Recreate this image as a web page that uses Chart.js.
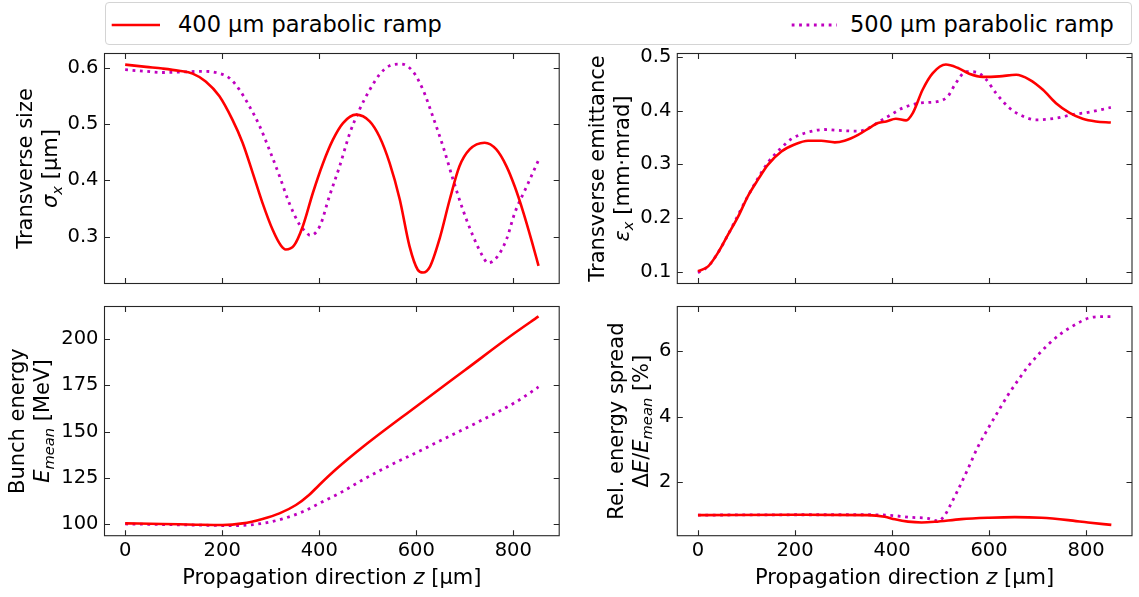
<!DOCTYPE html>
<html lang="en">
<head>
<meta charset="UTF-8">
<title>Parabolic ramp comparison</title>
<script src="https://cdn.jsdelivr.net/npm/chart.js"></script>
<style>
  body { margin: 0; background: #fff; width: 1139px; height: 597px; position: relative; overflow: hidden; font-family: "DejaVu Sans", sans-serif; }
  canvas { position: absolute; left: 0; top: 0; }
  #legend { position: absolute; left: 105px; top: 2px; width: 1027px; height: 43px; box-sizing: border-box; border: 1px solid #d4d4d4; border-radius: 4px; }
  .lab { position: absolute; top: 0; height: 43px; line-height: 43px; font-size: 22.5px; color: #000; white-space: nowrap; }
</style>
</head>
<body>

<div id="legend">
  <svg width="1027" height="43" style="position:absolute;left:-1px;top:-2px">
    <line x1="6.7" y1="24" x2="55" y2="24" stroke="#ff0000" stroke-width="2.6"/>
    <line x1="686.7" y1="24" x2="731.7" y2="24" stroke="#bf00bf" stroke-width="2.8" stroke-dasharray="2.8 4.6"/>
  </svg>
  <span class="lab" style="left:72px">400 µm parabolic ramp</span>
  <span class="lab" style="left:744px">500 µm parabolic ramp</span>
</div>

<canvas id="size" width="1139" height="597"></canvas>
<canvas id="emit" width="1139" height="597"></canvas>
<canvas id="energy" width="1139" height="597"></canvas>
<canvas id="spread" width="1139" height="597"></canvas>

<script>
// ---- data (z in µm) ----
const zTicks = [0, 200, 400, 600, 800];

// transverse size sigma_x [µm]
const sizeRedZ = [0, 43, 77, 111, 139, 166, 194, 221, 242, 263, 283, 304, 321, 331, 348, 366, 387, 408, 428, 449, 476, 504, 524, 545, 566, 586, 603, 614, 628, 648, 669, 689, 710, 741, 765, 786, 803, 820, 838, 852];
const sizeRed = [0.606, 0.602, 0.599, 0.595, 0.590, 0.576, 0.550, 0.508, 0.467, 0.413, 0.360, 0.312, 0.284, 0.277, 0.284, 0.318, 0.378, 0.431, 0.472, 0.502, 0.517, 0.505, 0.478, 0.431, 0.366, 0.283, 0.241, 0.236, 0.246, 0.296, 0.366, 0.425, 0.455, 0.467, 0.455, 0.425, 0.389, 0.345, 0.292, 0.248];
const sizePurpleZ = [0, 43, 77, 118, 160, 187, 215, 235, 256, 276, 297, 318, 338, 359, 373, 381, 401, 421, 442, 463, 483, 504, 524, 545, 569, 593, 614, 634, 655, 676, 696, 717, 737, 748, 765, 786, 803, 828, 852];
const sizePurple = [0.597, 0.594, 0.592, 0.593, 0.594, 0.592, 0.582, 0.562, 0.532, 0.499, 0.455, 0.408, 0.360, 0.322, 0.308, 0.302, 0.318, 0.372, 0.425, 0.484, 0.526, 0.561, 0.588, 0.604, 0.607, 0.594, 0.561, 0.514, 0.461, 0.401, 0.348, 0.301, 0.265, 0.253, 0.262, 0.295, 0.342, 0.390, 0.436];
const sizeTicks = [0.3, 0.4, 0.5, 0.6];

// transverse emittance [mm·mrad]
const emitRedZ = [0, 21, 41, 62, 83, 103, 124, 144, 172, 199, 227, 254, 282, 302, 330, 357, 371, 388, 408, 429, 443, 463, 484, 511, 535, 559, 587, 621, 656, 683, 711, 738, 766, 793, 820, 851];
const emitRed = [0.101, 0.110, 0.135, 0.169, 0.203, 0.241, 0.272, 0.299, 0.324, 0.337, 0.344, 0.344, 0.341, 0.344, 0.355, 0.370, 0.377, 0.380, 0.385, 0.382, 0.396, 0.439, 0.470, 0.486, 0.480, 0.469, 0.463, 0.464, 0.467, 0.458, 0.439, 0.414, 0.396, 0.385, 0.380, 0.378];
const emitPurpleZ = [0, 21, 41, 62, 103, 144, 172, 192, 227, 261, 296, 330, 357, 367, 395, 422, 456, 498, 515, 532, 553, 573, 594, 614, 642, 669, 697, 738, 773, 804, 851];
const emitPurple = [0.098, 0.110, 0.135, 0.169, 0.241, 0.303, 0.331, 0.347, 0.360, 0.365, 0.363, 0.362, 0.370, 0.376, 0.391, 0.405, 0.414, 0.418, 0.427, 0.452, 0.473, 0.472, 0.458, 0.433, 0.405, 0.390, 0.383, 0.386, 0.393, 0.397, 0.406];
const emitTicks = [0.1, 0.2, 0.3, 0.4, 0.5];

// bunch energy E_mean [MeV]
const energyRedZ = [0, 77, 146, 201, 242, 283, 318, 352, 379, 400, 434, 489, 600, 700, 800, 852];
const energyRed = [100.5, 100.2, 99.8, 99.6, 100.5, 102.9, 105.9, 110.4, 115.8, 121.2, 129.5, 141.5, 163.5, 183.0, 202.5, 212.0];
const energyPurpleZ = [0, 146, 228, 283, 324, 366, 407, 448, 489, 544, 599, 661, 723, 806, 852];
const energyPurple = [100.2, 99.6, 99.3, 100.5, 102.9, 106.8, 112.2, 117.6, 123.9, 131.5, 138.5, 146.5, 154.5, 166.0, 174.0];
const energyTicks = [100, 125, 150, 175, 200];

// relative energy spread [%]
const spreadRedZ = [0, 199, 350, 385, 406, 433, 461, 488, 543, 598, 653, 708, 763, 804, 852];
const spreadRed = [0.99, 1.00, 0.99, 0.94, 0.86, 0.79, 0.765, 0.785, 0.867, 0.908, 0.929, 0.908, 0.837, 0.765, 0.69];
const spreadPurpleZ = [0, 199, 364, 406, 440, 474, 495, 509, 522, 536, 557, 577, 598, 619, 639, 660, 680, 701, 722, 749, 777, 804, 830, 852];
const spreadPurple = [0.99, 1.00, 1.00, 0.97, 0.92, 0.89, 0.81, 0.99, 1.35, 1.76, 2.42, 3.08, 3.64, 4.17, 4.66, 5.12, 5.53, 5.89, 6.21, 6.55, 6.81, 7.01, 7.06, 7.06];
const spreadTicks = [2, 4, 6];

const RED = '#ff0000';
const PURPLE = '#bf00bf';
const FONT = '"DejaVu Sans"';

function pts(zs, vs) { return zs.map((z, i) => ({x: z, y: vs[i]})); }

// draw a line of mixed text: segments [text, style] style: '' normal, 'i' italic, 'is' italic subscript
function richWidth(ctx, segs, size) {
  let w = 0;
  segs.forEach(s => {
    const sub = s[1].indexOf('s') >= 0;
    ctx.font = (s[1].indexOf('i') >= 0 ? 'italic ' : '') + (sub ? size * 0.7 : size) + 'px ' + FONT;
    w += ctx.measureText(s[0]).width;
  });
  return w;
}
function drawRich(ctx, segs, cx, cy, size, rotate) {
  ctx.save();
  ctx.translate(cx, cy);
  if (rotate) ctx.rotate(-Math.PI / 2);
  ctx.fillStyle = '#000';
  ctx.textBaseline = 'alphabetic';
  ctx.textAlign = 'left';
  let x = -richWidth(ctx, segs, size) / 2;
  const base = size * 0.36;
  segs.forEach(s => {
    const sub = s[1].indexOf('s') >= 0;
    ctx.font = (s[1].indexOf('i') >= 0 ? 'italic ' : '') + (sub ? size * 0.7 : size) + 'px ' + FONT;
    ctx.fillText(s[0], x, base + (sub ? size * 0.22 : 0));
    x += ctx.measureText(s[0]).width;
  });
  ctx.restore();
}

// frame, inward ticks on all four sides, axis titles
const framePlugin = {
  id: 'frame',
  afterDraw(chart, args, o) {
    const {ctx, chartArea: a, scales} = chart;
    ctx.save();
    ctx.strokeStyle = '#262626';
    ctx.lineWidth = 1.1;
    ctx.strokeRect(a.left, a.top, a.right - a.left, a.bottom - a.top);
    const L = 5.5;
    ctx.beginPath();
    scales.x.ticks.forEach(t => {
      const px = Math.round(scales.x.getPixelForValue(t.value)) + 0.5;
      ctx.moveTo(px, a.bottom); ctx.lineTo(px, a.bottom - L);
      ctx.moveTo(px, a.top); ctx.lineTo(px, a.top + L);
    });
    scales.y.ticks.forEach(t => {
      const py = Math.round(scales.y.getPixelForValue(t.value)) + 0.5;
      ctx.moveTo(a.left, py); ctx.lineTo(a.left + L, py);
      ctx.moveTo(a.right, py); ctx.lineTo(a.right - L, py);
    });
    ctx.stroke();
    ctx.restore();
    const cy = (a.top + a.bottom) / 2;
    drawRich(ctx, [[o.title1, '']], o.tx1, cy, 21, true);
    drawRich(ctx, o.title2, o.tx2, cy, 21, true);
    if (o.xTitle) {
      drawRich(ctx, [['Propagation direction ', ''], ['z', 'i'], [' [µm]', '']], (a.left + a.right) / 2, 576.5, 21, false);
    }
  }
};

function makePanel(id, cfg) {
  const W = 1139, H = 597;
  const xH = cfg.xTitle ? H - cfg.bottom : 10;
  new Chart(document.getElementById(id), {
    type: 'line',
    data: {
      datasets: [
        {data: pts(cfg.redZ, cfg.red), borderColor: RED, borderWidth: 2.6, pointRadius: 0, cubicInterpolationMode: 'monotone', fill: false},
        {data: pts(cfg.purpleZ, cfg.purple), borderColor: PURPLE, borderWidth: 2.8, borderDash: [2.8, 4.6], pointRadius: 0, cubicInterpolationMode: 'monotone', fill: false}
      ]
    },
    options: {
      responsive: false,
      animation: false,
      events: [],
      layout: {padding: {left: 0, top: cfg.top, right: W - cfg.right, bottom: H - cfg.bottom - xH}},
      plugins: {
        legend: {display: false},
        tooltip: {enabled: false},
        frame: {title1: cfg.title1, title2: cfg.title2, tx1: cfg.tx1, tx2: cfg.tx2, xTitle: cfg.xTitle}
      },
      scales: {
        x: {
          type: 'linear', position: 'bottom', min: -42.6, max: 894.6,
          grid: {display: false, drawTicks: false}, border: {display: false},
          ticks: {display: cfg.xTitle, padding: 4, color: '#000', font: {family: 'DejaVu Sans', size: 19.5}, maxRotation: 0,
                  callback: v => String(v)},
          afterBuildTicks: s => { s.ticks = zTicks.map(v => ({value: v})); },
          afterFit: s => { s.height = xH; }
        },
        y: {
          type: 'linear', position: 'left', min: cfg.ymin, max: cfg.ymax,
          grid: {display: false, drawTicks: false}, border: {display: false},
          ticks: {padding: 6, color: '#000', font: {family: 'DejaVu Sans', size: 19.5},
                  callback: v => v.toFixed(cfg.dec)},
          afterBuildTicks: s => { s.ticks = cfg.ticks.map(v => ({value: v})); },
          afterFit: s => { s.width = cfg.left; }
        }
      }
    },
    plugins: [framePlugin]
  });
}

makePanel('size', {
  redZ: sizeRedZ, red: sizeRed, purpleZ: sizePurpleZ, purple: sizePurple,
  ticks: sizeTicks, dec: 1, ymin: 0.2165, ymax: 0.6258,
  left: 104.5, right: 559.2, top: 53.5, bottom: 283.5, xTitle: false,
  title1: 'Transverse size', title2: [['σ', 'i'], ['x', 'is'], [' [µm]', '']], tx1: 24, tx2: 49.5
});
makePanel('emit', {
  redZ: emitRedZ, red: emitRed, purpleZ: emitPurpleZ, purple: emitPurple,
  ticks: emitTicks, dec: 1, ymin: 0.078, ymax: 0.5066,
  left: 677.3, right: 1132, top: 53.5, bottom: 283.5, xTitle: false,
  title1: 'Transverse emittance', title2: [['ε', 'i'], ['x', 'is'], [' [mm·mrad]', '']], tx1: 596.5, tx2: 621
});
makePanel('energy', {
  redZ: energyRedZ, red: energyRed, purpleZ: energyPurpleZ, purple: energyPurple,
  ticks: energyTicks, dec: 0, ymin: 93.86, ymax: 217.35,
  left: 104.5, right: 559.2, top: 306.5, bottom: 535.7, xTitle: true,
  title1: 'Bunch energy', title2: [['E', 'i'], ['mean', 'is'], [' [MeV]', '']], tx1: 16, tx2: 41.5
});
makePanel('spread', {
  redZ: spreadRedZ, red: spreadRed, purpleZ: spreadPurpleZ, purple: spreadPurple,
  ticks: spreadTicks, dec: 0, ymin: 0.36, ymax: 7.37,
  left: 677.3, right: 1132, top: 306.5, bottom: 535.7, xTitle: true,
  title1: 'Rel. energy spread', title2: [['Δ', ''], ['E', 'i'], ['/', ''], ['E', 'i'], ['mean', 'is'], [' [%]', '']], tx1: 615, tx2: 640
});
</script>
</body>
</html>
